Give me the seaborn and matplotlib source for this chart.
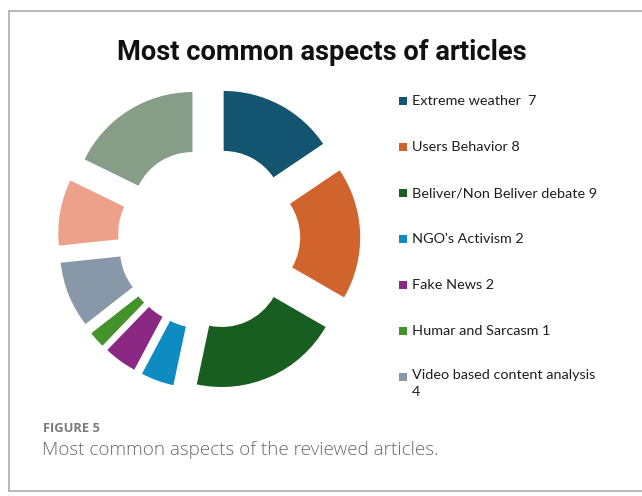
import textwrap
import matplotlib
matplotlib.use("Agg")
import matplotlib.pyplot as plt
from matplotlib.patches import Rectangle
import seaborn as sns

# Counts per aspect, clockwise from 12 o'clock
legend_names = [
    "Extreme weather ",
    "Users Behavior",
    "Beliver/Non Beliver debate",
    "NGO's Activism",
    "Fake News",
    "Humar and Sarcasm",
    "Video based content analysis",
]
values = [7, 8, 9, 2, 2, 1, 4, 4, 8]
colors = ["#135470", "#D0642C", "#175E20", "#0E8CC1", "#8A2883",
          "#44932A", "#8798A9", "#EDA18B", "#869D87"]

sns.set_theme(style="white")
plt.rcParams["font.family"] = ["Lato", "DejaVu Sans"]
palette = sns.color_palette(colors)

W, H = 642, 496
fig = plt.figure(figsize=(W / 100, H / 100), dpi=100)
fig.patch.set_facecolor("white")


def fx(px):
    return px / W


def fy(py):
    return 1 - py / H


# card border (open on the right)
border_color = "#ababab"
fig.add_artist(plt.Line2D([fx(8.5), fx(8.5)], [fy(10.5), fy(490.5)], color=border_color, lw=1.2))
fig.add_artist(plt.Line2D([fx(8.5), 1.0], [fy(10.5), fy(10.5)], color=border_color, lw=1.2))
fig.add_artist(plt.Line2D([fx(8.5), 1.0], [fy(490.5), fy(490.5)], color=border_color, lw=1.2))

# donut
cx, cy, half = 209, 238.5, 160
ax = fig.add_axes([fx(cx - half), fy(cy + half), fx(2 * half), (2 * half) / H])
wedges, _ = ax.pie(
    values,
    colors=palette,
    startangle=90,
    counterclock=False,
    explode=[0.26] * len(values),
    radius=1.0,
    wedgeprops=dict(width=0.5, edgecolor="none", linewidth=0),
)
lim = half / 120
ax.set_xlim(-lim, lim)
ax.set_ylim(-lim, lim)
ax.set_aspect("equal", adjustable="box")
ax.axis("off")

# title
fig.text(fx(322), fy(53), "Most common aspects of articles",
         ha="center", va="center", fontsize=19.6, fontweight="bold",
         family=["Roboto", "DejaVu Sans"], color="#111111")

# legend
y0, step = 101, 46
for i, name in enumerate(legend_names):
    label = textwrap.fill(f"{name} {values[i]}", width=28)
    yc = y0 + i * step
    fig.add_artist(Rectangle((fx(399), fy(yc + 4)), fx(8), 8 / H,
                             facecolor=palette[i], edgecolor="none",
                             transform=fig.transFigure))
    if "\n" in label:
        fig.text(fx(412), fy(yc - 8), label, ha="left", va="top",
                 fontsize=10.4, color="#1e1e1e", linespacing=1.45)
    else:
        fig.text(fx(412), fy(yc), label, ha="left", va="center",
                 fontsize=10.4, color="#1e1e1e")

# caption
fig.text(fx(43), fy(429), "FIGURE 5", ha="left", va="center", fontsize=9.3,
         fontweight="bold", color="#7a7a7a", family=["Open Sans", "DejaVu Sans"])
fig.text(fx(42), fy(450), "Most common aspects of the reviewed articles.",
         ha="left", va="center", fontsize=13.6, fontweight="light", color="#6a6a6a",
         family=["Open Sans", "DejaVu Sans"])

fig.savefig("out.png", dpi=100, facecolor="white")
